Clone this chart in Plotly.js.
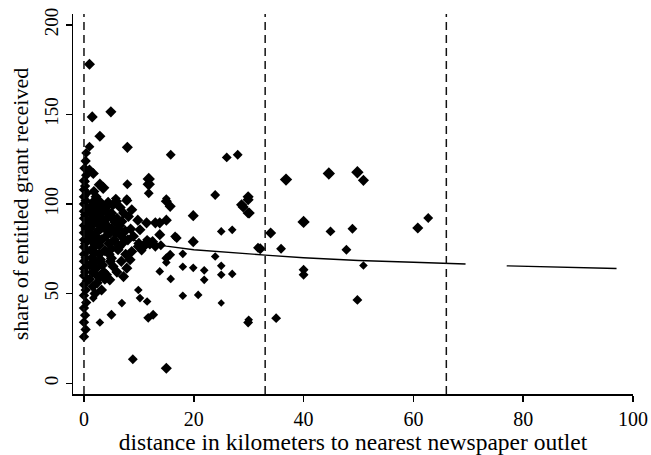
<!DOCTYPE html>
<html>
<head>
<meta charset="utf-8">
<script src="https://cdn.plot.ly/plotly-3.0.1.min.js"></script>
<style>html,body{margin:0;padding:0;background:#fff;}#chart{width:651px;height:455px;}</style>
</head>
<body>
<div id="chart"></div>
<script>
// Sparse / individually read points
const sparseX = [1,1.5,4.9,2.9,1,0.4,7.9,15.8,26,28,1,1.7,0.2,2.9,3.5,7.9,11.8,11.8,11.8,23.9,29.9,15,5.8,7.8,15,15.7,28.7,29.9,19.9,25,27,31.7,23.9,25,27,25,21.9,21.9,19.9,19.9,18,18,18,20.8,25,29.9,15.8,13.8,15,15.7,15,12.6,11.7,9.9,10.2,11.5,6.9,5,2.9,1.7,8.9,15,
  10,11,12,13,10.5,12.5,11.5,14,
  9.8,11.4,13,10.2,13.8,13.8,15,16.6,16.9,7.8,8.7,5.3,5.9,4.4,6.9,8.1,9.9,8.7,8.4,7.8,7.2,4.7,5,2.9,6.2,5.6,5.3,4.1,2.9,
  29.9,29,30.1,36.8,44.6,49.8,50.9,40,44.9,48.9,60.8,62.7,34,32.1,35.9,47.8,40,40,50.9,49.8,35,30];
const sparseY = [178,148.6,151.4,137.8,132,128.5,131.6,127.5,126,127.5,119,117,112.6,110.8,109,111,114,111,106,105,104,103,103,103,101.5,98.7,99.6,95,93.5,84.7,85.6,75.6,70.7,65.5,61,60.5,63,57.7,64.4,79,72.2,65,48.8,49.3,44.8,33.9,58.2,62.4,69.8,71.7,67.4,38.2,36.5,52,47.5,45.6,44.7,38.2,33.9,47.5,13.4,8.4,
  78,77,78,76.5,74,79,80,77,
  91,89.5,89.5,85.6,89.5,82.9,91,81.9,81,102,96.8,99.6,101.5,95,90.3,93,76.3,73.5,68.9,64.2,59.5,57.7,69.8,68,74.5,79.1,65.2,60.5,59.6,
  102.4,98.3,95,113.6,117,117.7,113.2,90,84.7,86.2,86.6,92.2,83.8,75,75,74.5,63.3,60.5,65.7,46.5,36.3,35.4];
const sparseSize = [9,9,9,9,8,8,9,8,8,8,9,9,8,10,10,8,10,10,8,8,9,7,8,7,9,9,9,9,9,7,7,8,7,7,7,7,7,7,7,9,7,7,7,7,6,8,7,7,8,8,7,8,8,7,7,7,7,8,7,7,8,9,
  9,10,10,9,8,9,8,8,
  9,9,9,9,9,9,9,8,8,9,9,9,9,9,9,9,9,9,9,9,9,9,9,9,9,9,9,9,9,
  9,9,9,10,10,10,9,10,8,8,9,8,9,9,8,8,8,8,7,8,8,7];

// Dense cluster near the outlet (x ~ 1-9)
const clusterX = [1.2,2,2.8,3.5,4.2,5,5.8,6.5,3,2.2,1.5,4,3.2,2.5,1.8,4.5,5.5,6.8,7.5,6,5,4,3,2.2,1.8,2.6,7,6.4,3.8,2.8,1.5,4.6,3.4,2.2,1.6,3.6,2.4,1.6,3.2,2,4.8,5.6,7.2,6.6,3.6,1.4,2.4,8.5,9,8,7.6,6.8,6,2.2,4.2,1.2,1,1.3,1,1,
  1.8,2.6,3.4,4.4,5.2,6.2,1.6,2.8,4.0,5.0,1.4,2.0,3.0,4.8,1.2,2.4,3.8,1.8,2.8,1.4];
const clusterY = [98,95,93,90,88,86,84,88,86,84,88,82,80,78,76,78,80,82,85,92,95,98,101,104,107,100,78,76,74,72,70,72,66,64,62,62,56,54,52,50,84,90,95,98,96,92,90,86,82,80,72,68,62,82,92,80,86,74,66,58,
  97,97,99,101,92,86,101,88,86,75,80,73,69,68,95,60,58,67,77,83];

// Column of points at distance ~0
const columnX = [0,0.3,0,0.2,0,0.4,0,0.3,0,0.5,0,0.2,0,0.6,0,0.3,0,0.5,0,0.2,0,0.6,0,0.3,0,0.5,0,0.2,0,0.6,0,0.3,0,0.5,0,0.2,0,0.4,0.1,0.3];
const columnY = [26,30,34,38,42,45,49,52,55,57,60,62,64,66,68,70,72,74,76,78,80,82,84,86,88,90,92,94,96,98,100,102,104,106,108,110,113,116,120,124];

// Fitted line (two segments, gap between)
const fitX = [0,2,5,10,15,20,28,33,40,50,60,69.5,null,77,85,97];
const fitY = [88,86,83,79,76.5,74.5,72.5,71.5,70,68.5,67.5,66.5,null,65.5,65,64];

// Vertical dashed cutoffs
const cutoffs = [0,33,66];

const xTicks = [0,20,40,60,80,100];
const yTicks = [0,50,100,150,200];

const FONT = "Liberation Serif, Times New Roman, serif";
const mk = (s) => s.map(v => v * 0.95);

const baseMarker = {symbol: 'diamond', color: '#000', opacity: 1, line: {width: 0}};

const traces = [
  {x: columnX, y: columnY, type: 'scatter', mode: 'markers',
   marker: Object.assign({}, baseMarker, {size: 8}), hoverinfo: 'skip'},
  {x: clusterX, y: clusterY, type: 'scatter', mode: 'markers',
   marker: Object.assign({}, baseMarker, {size: 8.5}), hoverinfo: 'skip'},
  {x: sparseX, y: sparseY, type: 'scatter', mode: 'markers',
   marker: Object.assign({}, baseMarker, {size: mk(sparseSize)}), hoverinfo: 'skip'},
  {x: fitX, y: fitY, type: 'scatter', mode: 'lines', connectgaps: false,
   line: {color: '#000', width: 1.4}, hoverinfo: 'skip'}
];

const shapes = cutoffs.map(c => ({
  type: 'line', xref: 'x', yref: 'paper', x0: c, x1: c, y0: 0, y1: 1,
  line: {color: '#111', width: 1.5, dash: '8px,5px'}
}));

const layout = {
  width: 651, height: 455,
  margin: {l: 73, r: 18, t: 14, b: 61},
  paper_bgcolor: '#fff', plot_bgcolor: '#fff',
  showlegend: false,
  font: {family: FONT, color: '#000', size: 18},
  shapes: shapes,
  xaxis: {
    range: [-2, 100], showgrid: false, zeroline: false,
    showline: true, linecolor: '#000', linewidth: 1.5,
    ticks: 'outside', ticklen: 6, tickwidth: 1.5, tickcolor: '#000',
    tickvals: xTicks, ticktext: xTicks.map(String),
    tickfont: {family: FONT, size: 20, color: '#000'},
    title: {text: 'distance in kilometers to nearest newspaper outlet',
            font: {family: FONT, size: 23.5, color: '#000'}, standoff: 0}
  },
  yaxis: {
    range: [-6, 206], showgrid: false, zeroline: false,
    showline: true, linecolor: '#000', linewidth: 1.5,
    ticks: 'outside', ticklen: 6, tickwidth: 1.5, tickcolor: '#000',
    tickvals: yTicks, ticktext: yTicks.map(String), tickangle: -90,
    tickfont: {family: FONT, size: 19, color: '#000'},
    title: {text: 'share of entitled grant received',
            font: {family: FONT, size: 22, color: '#000'}, standoff: 6}
  }
};

Plotly.newPlot('chart', traces, layout, {staticPlot: true, displayModeBar: false});
</script>
</body>
</html>
